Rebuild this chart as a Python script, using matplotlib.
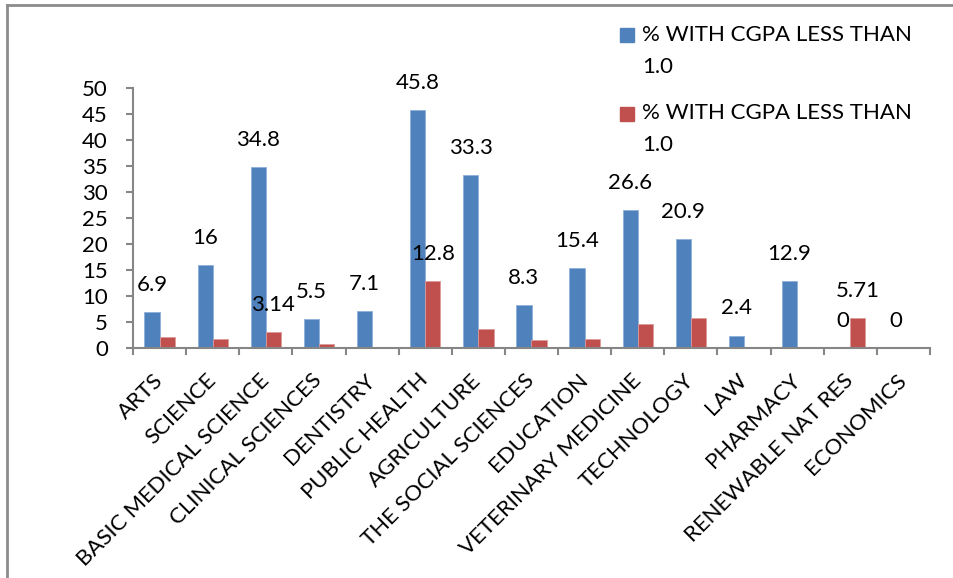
import matplotlib
matplotlib.use("Agg")
import matplotlib.pyplot as plt
from matplotlib.patches import Rectangle
from matplotlib.lines import Line2D
import numpy as np

plt.rcParams['font.family'] = ['Lato', 'DejaVu Sans']

categories = ["ARTS", "SCIENCE", "BASIC MEDICAL SCIENCE", "CLINICAL SCIENCES",
              "DENTISTRY", "PUBLIC HEALTH", "AGRICULTURE", "THE SOCIAL SCIENCES",
              "EDUCATION", "VETERINARY MEDICINE", "TECHNOLOGY", "LAW", "PHARMACY",
              "RENEWABLE NAT RES", "ECONOMICS"]
blue_values = [6.9, 16, 34.8, 5.5, 7.1, 45.8, 33.3, 8.3, 15.4, 26.6, 20.9, 2.4, 12.9, 0, 0]
red_values = [2.1, 1.7, 3.14, 0.8, 0, 12.8, 3.7, 1.5, 1.8, 4.7, 5.8, 0, 0, 5.71, 0]
# only some of the red bars carry a value label
red_labelled = [False, False, True, False, False, True, False, False, False,
                False, False, False, False, True, False]
series_names = ["% WITH CGPA LESS THAN\n1.0", "% WITH CGPA LESS THAN\n1.0"]
yticks = [0, 5, 10, 15, 20, 25, 30, 35, 40, 45, 50]

BLUE = "#4F81BD"
RED = "#C0504D"
AXIS = "#868686"
FS = 16

W, H = 954, 578
fig = plt.figure(figsize=(W / 100, H / 100), dpi=100)
ax = fig.add_axes([133 / W, 1 - 348 / H, (930 - 133) / W, (348 - 88) / H])

x = np.arange(len(categories))
bw = 0.286
bb = ax.bar(x - bw / 2, blue_values, bw, color=BLUE, edgecolor="#8EB0DA", linewidth=0.6)
rb = ax.bar(x + bw / 2, red_values, bw, color=RED, edgecolor="#DC9A98", linewidth=0.6)

for rect, v in zip(bb, blue_values):
    ax.annotate(f"{v:g}", (rect.get_x() + rect.get_width() / 2, v),
                xytext=(0, 19.5), textcoords="offset points",
                ha="center", va="center", fontsize=FS, color="black")
for rect, v, lab in zip(rb, red_values, red_labelled):
    if lab:
        ax.annotate(f"{v:g}", (rect.get_x() + rect.get_width() / 2, v),
                    xytext=(0, 19.5), textcoords="offset points",
                    ha="center", va="center", fontsize=FS, color="black")

ax.set_xlim(-0.5, len(categories) - 0.5)
ax.set_ylim(0, 50)
ax.set_yticks(yticks)
ax.set_yticklabels([str(t) for t in yticks], fontsize=FS)
ax.set_xticks(np.arange(len(categories) + 1) - 0.5, minor=False)
ax.set_xticklabels([])
ax.set_xticks(x, minor=True)
ax.set_xticklabels(categories, minor=True, rotation=45, ha="right", va="center",
                   rotation_mode="anchor", fontsize=FS)
ax.tick_params(axis="x", which="minor", length=0, pad=21)
ax.tick_params(axis="x", which="major", length=5, width=1.5, color=AXIS)
ax.tick_params(axis="y", length=5, width=1.5, color=AXIS, pad=13)

for s in ["top", "right"]:
    ax.spines[s].set_visible(False)
for s in ["left", "bottom"]:
    ax.spines[s].set_color(AXIS)
    ax.spines[s].set_linewidth(1.5)

# legend drawn in figure pixels
def legend_entry(y_sq, y_text, color, label):
    fig.patches.append(Rectangle((620 / W, 1 - (y_sq + 14) / H), 14 / W, 14 / H,
                                 transform=fig.transFigure, color=color))
    first, second = label.split("\n")
    fig.text(642 / W, 1 - y_text / H, first, fontsize=FS, va="center", ha="left")
    fig.text(642 / W, 1 - (y_text + 32) / H, second, fontsize=FS, va="center", ha="left")

legend_entry(28, 35, BLUE, series_names[0])
legend_entry(107, 113, RED, series_names[1])

# chart frame (top and left edges)
fig.add_artist(Line2D([7 / W, 7 / W], [0, 1 - 5 / H], transform=fig.transFigure,
                      color="#8C8C8C", linewidth=2))
fig.add_artist(Line2D([7 / W, 1], [1 - 5 / H, 1 - 5 / H], transform=fig.transFigure,
                      color="#8C8C8C", linewidth=2))

fig.savefig("out.png", dpi=100, facecolor="white")
